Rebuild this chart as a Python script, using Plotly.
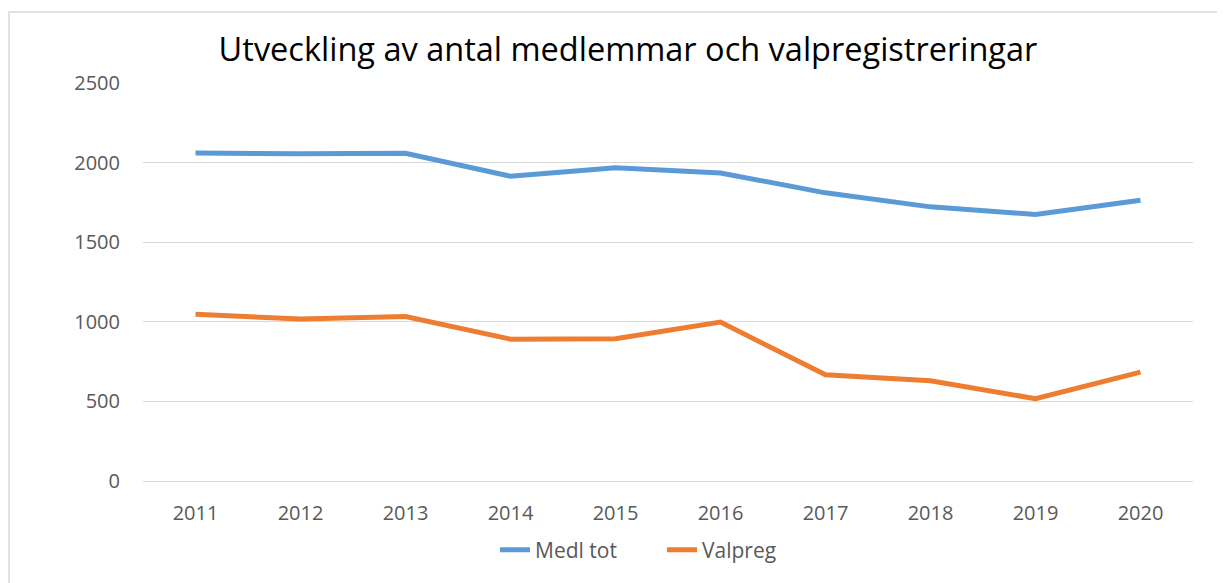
import plotly.graph_objects as go

years = ["2011", "2012", "2013", "2014", "2015", "2016", "2017", "2018", "2019", "2020"]
medl_tot = [2061, 2055, 2058, 1914, 1967, 1935, 1810, 1722, 1674, 1763]
valpreg = [1048, 1017, 1033, 891, 893, 998, 667, 629, 517, 684]
y_ticks = [0, 500, 1000, 1500, 2000, 2500]

fig = go.Figure()
fig.add_trace(go.Scatter(x=years, y=medl_tot, name="Medl tot", mode="lines",
                         line=dict(color="#5B9BD5", width=5)))
fig.add_trace(go.Scatter(x=years, y=valpreg, name="Valpreg", mode="lines",
                         line=dict(color="#ED7D31", width=5)))

OFF = 8  # page body margin
W, H = 1225, 583
L, T = 143 - OFF, 83 - OFF
pw, ph = 1050, 398
R = W - L - pw
B = H - T - ph
plot_bottom = T + ph  # in figure coords

fig.update_layout(
    width=W, height=H,
    margin=dict(l=L, r=R, t=T, b=B),
    paper_bgcolor="white", plot_bgcolor="white",
    font=dict(family="Open Sans, Liberation Sans, sans-serif", color="#595959", size=20),
    title=dict(text="Utveckling av antal medlemmar och valpregistreringar",
               x=(628 - OFF) / W, xanchor="center", y=1 - (50 - OFF) / H, yanchor="middle",
               font=dict(size=32.5, color="#000000")),
    showlegend=True,
    legend=dict(orientation="h", x=(507 - OFF - 12 - L) / pw, xanchor="left",
                y=-(550 - 481) / ph, yanchor="middle", entrywidth=122, entrywidthmode="pixels",
                font=dict(size=21, color="#595959")),
    xaxis=dict(type="category", showgrid=False, zeroline=False, showline=True,
               linecolor="#D9D9D9", linewidth=1, ticks="", tickfont=dict(size=20, color="#595959"),
               range=[-0.5, len(years) - 0.5], ticklabelstandoff=14),
    yaxis=dict(range=[0, 2500], tickvals=y_ticks, showgrid=True, gridcolor="#D9D9D9", gridwidth=1,
               zeroline=False, showline=False, ticks="", tickfont=dict(size=20, color="#595959"),
               ticklabelstandoff=22),
    shapes=[dict(type="rect", xref="paper", yref="paper",
                 x0=(9 - OFF - L) / pw, x1=(W + 20 - L) / pw,
                 y0=-(H + 20 - plot_bottom) / ph,
                 y1=(plot_bottom - (12 - OFF)) / ph,
                 line=dict(color="#D9D9D9", width=1.5), fillcolor="rgba(0,0,0,0)", layer="below")],
)

fig.write_html("out.html")
